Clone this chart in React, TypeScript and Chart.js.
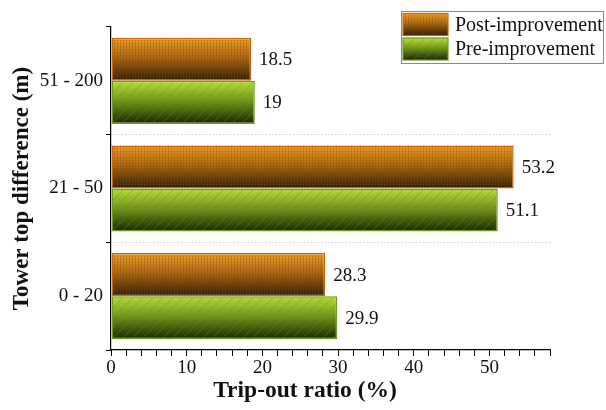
import React, { useEffect, useRef } from 'react';
import { Chart, registerables } from 'chart.js';
Chart.register(...registerables);

const categories = ['51 - 200', '21 - 50', '0 - 20'];
const seriesLabels = ['Post-improvement', 'Pre-improvement'];
const postImprovement = [18.5, 53.2, 28.3];
const preImprovement = [19, 51.1, 29.9];
const xTickLabels = [0, 10, 20, 30, 40, 50];
const xAxisMax = 58;
const xTitle = 'Trip-out ratio (%)';
const yTitle = 'Tower top difference (m)';

const SERIF = '"Liberation Serif", "Times New Roman", Times, serif';

type BarStyle = { stops: [number, string][]; line: [string, string]; border: string; kind: 'mesh' | 'hatch' };
const STYLES: BarStyle[] = [
  { stops: [[0, '#F2A22C'], [0.45, '#B06A10'], [1, '#261A03']], line: ['#C47414', '#5A3A08'], border: '#C8680E', kind: 'mesh' },
  { stops: [[0, '#BADD38'], [0.45, '#72981A'], [1, '#182404']], line: ['#88AE22', '#4A6810'], border: '#6E9A1E', kind: 'hatch' },
];

function makeGradient(ctx: CanvasRenderingContext2D, top: number, bottom: number, s: BarStyle) {
  const g = ctx.createLinearGradient(0, top, 0, bottom);
  s.stops.forEach(([o, c]) => g.addColorStop(o, c));
  return g;
}

function drawPattern(ctx: CanvasRenderingContext2D, x: number, y: number, w: number, h: number, s: BarStyle) {
  if (w <= 0 || h <= 0) return;
  ctx.save();
  ctx.beginPath();
  ctx.rect(x, y, w, h);
  ctx.clip();
  const lg = ctx.createLinearGradient(0, y, 0, y + h);
  lg.addColorStop(0, s.line[0]);
  lg.addColorStop(1, s.line[1]);
  ctx.strokeStyle = lg;
  ctx.lineWidth = 1;
  if (s.kind === 'mesh') {
    ctx.globalAlpha = 0.7;
    ctx.beginPath();
    for (let xx = x + 1.5; xx < x + w; xx += 3) {
      ctx.moveTo(xx, y);
      ctx.lineTo(xx, y + h);
    }
    ctx.stroke();
    ctx.globalAlpha = 0.4;
    ctx.beginPath();
    for (let yy = y + 1.5; yy < y + h; yy += 3) {
      ctx.moveTo(x, yy);
      ctx.lineTo(x + w, yy);
    }
    ctx.stroke();
  } else {
    ctx.globalAlpha = 0.8;
    ctx.beginPath();
    for (let d = -h; d < w + h; d += 10) {
      ctx.moveTo(x + d, y + h);
      ctx.lineTo(x + d + h, y);
    }
    ctx.stroke();
  }
  ctx.restore();
}

const barPaintPlugin = {
  id: 'barPaint',
  beforeDatasetsDraw(chart: any) {
    const ctx = chart.ctx;
    chart.data.datasets.forEach((_: any, di: number) => {
      const meta = chart.getDatasetMeta(di);
      meta.data.forEach((el: any) => {
        const { y, height } = el.getProps(['y', 'height'], true);
        if (el.options) el.options.backgroundColor = makeGradient(ctx, y - height / 2, y + height / 2, STYLES[di]);
      });
    });
  },
  afterDatasetsDraw(chart: any) {
    const ctx = chart.ctx;
    chart.data.datasets.forEach((ds: any, di: number) => {
      const meta = chart.getDatasetMeta(di);
      meta.data.forEach((el: any, i: number) => {
        const { x, y, base, height } = el.getProps(['x', 'y', 'base', 'height'], true);
        const bw = 1.5;
        drawPattern(ctx, base + bw, y - height / 2 + bw, x - base - 2 * bw, height - 2 * bw, STYLES[di]);
        ctx.save();
        ctx.font = `19px ${SERIF}`;
        ctx.fillStyle = '#111';
        ctx.textAlign = 'left';
        ctx.textBaseline = 'middle';
        ctx.fillText(String(ds.data[i]), x + 8, y + 1);
        ctx.restore();
      });
    });
  },
  afterDraw(chart: any) {
    const ctx = chart.ctx;
    // legend
    ctx.save();
    ctx.strokeStyle = '#8a8a8a';
    ctx.lineWidth = 1;
    ctx.strokeRect(401.5, 11.5, 202, 52);
    chart.data.datasets.forEach((ds: any, di: number) => {
      const sx = 403, sw = 45, sh = 22;
      const sy = 13.5 + di * 24.5;
      ctx.fillStyle = makeGradient(ctx, sy, sy + sh, STYLES[di]);
      ctx.fillRect(sx, sy, sw, sh);
      drawPattern(ctx, sx + 1, sy + 1, sw - 2, sh - 2, STYLES[di]);
      ctx.strokeStyle = STYLES[di].border;
      ctx.lineWidth = 1.2;
      ctx.strokeRect(sx, sy, sw, sh);
      ctx.font = `20px ${SERIF}`;
      ctx.fillStyle = '#111';
      ctx.textAlign = 'left';
      ctx.textBaseline = 'middle';
      ctx.fillText(ds.label, 455, sy + sh / 2 + 1);
    });
    // x title
    ctx.font = `bold 23.5px ${SERIF}`;
    ctx.fillStyle = '#111';
    ctx.textAlign = 'center';
    ctx.textBaseline = 'middle';
    ctx.fillText(xTitle, 305, 391);
    ctx.restore();
  },
};

export default function App() {
  const ref = useRef<HTMLCanvasElement | null>(null);
  useEffect(() => {
    if (!ref.current) return;
    const chart = new Chart(ref.current, {
      type: 'bar',
      data: {
        labels: categories,
        datasets: [
          { label: seriesLabels[0], data: postImprovement, borderColor: STYLES[0].border, backgroundColor: (() => STYLES[0].stops[0][1]) as any, borderWidth: 1.5, borderSkipped: false },
          { label: seriesLabels[1], data: preImprovement, borderColor: STYLES[1].border, backgroundColor: (() => STYLES[1].stops[0][1]) as any, borderWidth: 1.5, borderSkipped: false },
        ],
      },
      options: {
        indexAxis: 'y',
        responsive: false,
        animation: false,
        events: [],
        layout: { padding: { top: 27, right: 56, bottom: 0, left: 0 } },
        datasets: { bar: { categoryPercentage: 0.8, barPercentage: 1 } },
        plugins: { legend: { display: false }, tooltip: { enabled: false }, title: { display: false } },
        scales: {
          x: {
            type: 'linear',
            min: 0,
            max: xAxisMax,
            afterFit: (s: any) => { s.height = 60; },
            ticks: {
              stepSize: 2,
              autoSkip: false,
              maxRotation: 0,
              padding: 1,
              color: '#111',
              font: { family: SERIF, size: 19 },
              callback: (v: any) => (xTickLabels.includes(Number(v)) ? String(v) : ''),
            },
            grid: { drawOnChartArea: false, tickLength: 6, tickColor: '#000', color: '#000' },
            border: { color: '#000', width: 1.2 },
          },
          y: {
            type: 'category',
            offset: true,
            afterFit: (s: any) => { s.width = 111; },
            ticks: { color: '#111', padding: 3, font: { family: SERIF, size: 19 } },
            grid: {
              offset: true,
              drawOnChartArea: true,
              tickLength: 5,
              tickColor: '#000',
              color: (c: any) => (c.type === 'tick' && c.index > 0 ? '#cfcfcf' : 'rgba(0,0,0,0)'),
            },
            border: { color: '#000', width: 1.2, dash: [1.5, 2] },
            title: {
              display: true,
              text: yTitle,
              color: '#111',
              font: { family: SERIF, size: 23, weight: 'bold' },
              padding: { top: 8, bottom: 0 },
            },
          },
        },
      },
      plugins: [barPaintPlugin],
    } as any);
    return () => chart.destroy();
  }, []);
  return (
    <div style={{ position: 'fixed', left: 0, top: 0, width: 606, height: 410, background: '#fff' }}>
      <canvas ref={ref} width={606} height={410} style={{ display: 'block' }} />
    </div>
  );
}
